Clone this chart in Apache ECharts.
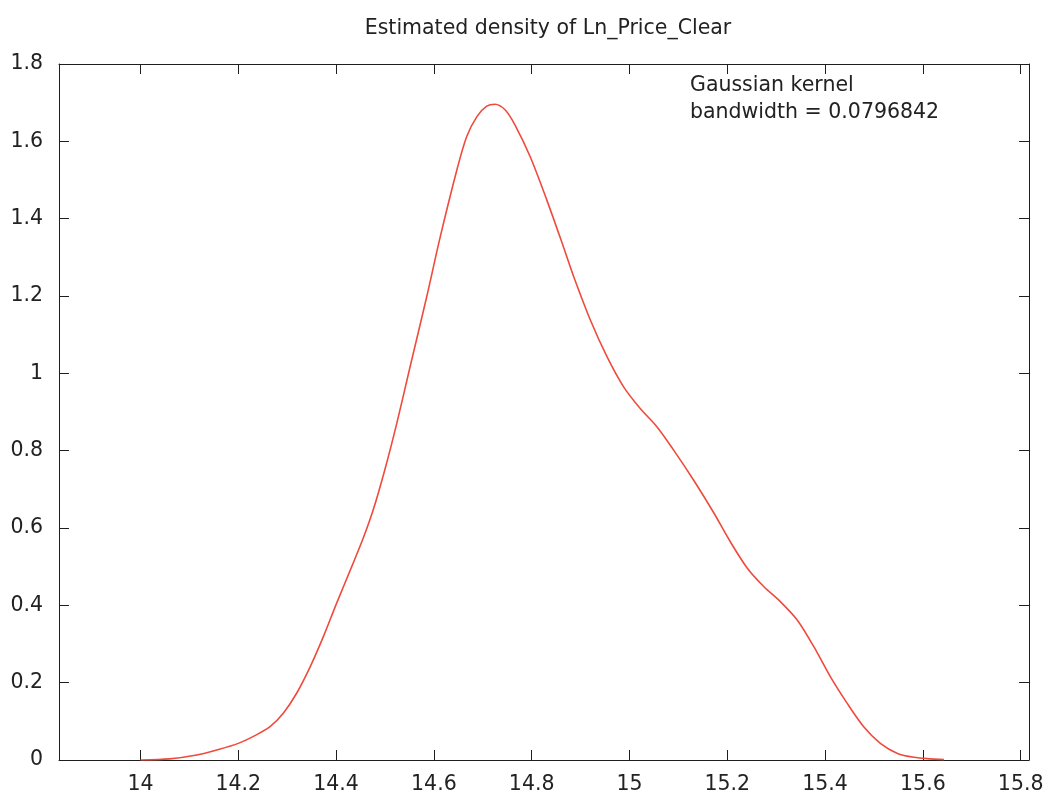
<!DOCTYPE html>
<html>
<head>
<meta charset="utf-8">
<script src="https://cdn.jsdelivr.net/npm/echarts@6/dist/echarts.min.js"></script>
<style>
html,body{margin:0;padding:0;background:#fff;}
#chart{width:1052px;height:798px;}
</style>
</head>
<body>
<div id="chart"></div>
<script>
var titleText = 'Estimated density of Ln_Price_Clear';
var noteLines = ['Gaussian kernel', 'bandwidth = 0.0796842'];
var xTicks = [14, 14.2, 14.4, 14.6, 14.8, 15, 15.2, 15.4, 15.6, 15.8];
var yTicks = [0, 0.2, 0.4, 0.6, 0.8, 1, 1.2, 1.4, 1.6, 1.8];
var xs = [14.0, 14.06, 14.115, 14.156, 14.2, 14.237, 14.265, 14.292, 14.319, 14.347,
  14.374, 14.401, 14.432, 14.455, 14.476, 14.5, 14.524, 14.551, 14.585, 14.613, 14.647, 14.667,
  14.688, 14.708, 14.725, 14.746, 14.766, 14.797, 14.831, 14.865, 14.886, 14.92,
  14.954, 14.988, 15.022, 15.056, 15.09, 15.131, 15.172, 15.206, 15.241, 15.275,
  15.309, 15.343, 15.377, 15.411, 15.445, 15.479, 15.513, 15.548, 15.582, 15.616, 15.643];
var density = [0.0, 0.003, 0.013, 0.026, 0.043, 0.065, 0.086, 0.121, 0.172, 0.241,
  0.319, 0.405, 0.500, 0.572, 0.647, 0.752, 0.870, 1.015, 1.196, 1.353, 1.526, 1.612,
  1.664, 1.691, 1.696, 1.681, 1.642, 1.560, 1.448, 1.327, 1.250, 1.138,
  1.043, 0.965, 0.909, 0.862, 0.802, 0.724, 0.640, 0.565, 0.496, 0.448,
  0.409, 0.362, 0.293, 0.215, 0.147, 0.086, 0.043, 0.017, 0.007, 0.003, 0.001];

var pts = xs.map(function (x, i) { return [x, density[i]]; });
var XMIN = 13.8334, XMAX = 15.817;
var FONT = '"DejaVu Sans", sans-serif';
var FS = 20.5;
var axisColor = '#1e1e1e';

function fmt(v) { return String(Math.round(v * 1000) / 1000); }

var chart = echarts.init(document.getElementById('chart'), null, {renderer: 'canvas'});
chart.setOption({
  animation: false,
  backgroundColor: '#fff',
  title: {
    text: titleText, left: 543, top: 13, textAlign: 'center',
    textStyle: {fontFamily: FONT, fontSize: FS, fontWeight: 'normal', color: '#222'}
  },
  grid: {left: 59, top: 64, right: 23, bottom: 38, containLabel: false},
  xAxis: [{
    type: 'value', position: 'bottom', min: XMIN, max: XMAX,
    axisLine: {show: true, onZero: false, lineStyle: {color: axisColor, width: 1}},
    axisTick: {show: true, inside: true, length: 10, customValues: xTicks, lineStyle: {color: axisColor, width: 1}},
    axisLabel: {show: true, customValues: xTicks, formatter: fmt, margin: 14,
      fontFamily: FONT, fontSize: FS, color: '#222'},
    splitLine: {show: false}
  }, {
    type: 'value', position: 'top', min: XMIN, max: XMAX,
    axisLine: {show: true, onZero: false, lineStyle: {color: axisColor, width: 1}},
    axisTick: {show: true, inside: true, length: 10, customValues: xTicks, lineStyle: {color: axisColor, width: 1}},
    axisLabel: {show: false},
    splitLine: {show: false}
  }],
  yAxis: [{
    type: 'value', position: 'left', min: 0, max: 1.8, interval: 0.2,
    axisLine: {show: true, onZero: false, lineStyle: {color: axisColor, width: 1}},
    axisTick: {show: true, inside: true, length: 10, lineStyle: {color: axisColor, width: 1}},
    axisLabel: {show: true, formatter: fmt, margin: 16, fontFamily: FONT, fontSize: FS, color: '#222'},
    splitLine: {show: false}
  }, {
    type: 'value', position: 'right', min: 0, max: 1.8, interval: 0.2,
    axisLine: {show: true, onZero: false, lineStyle: {color: axisColor, width: 1}},
    axisTick: {show: true, inside: true, length: 10, lineStyle: {color: axisColor, width: 1}},
    axisLabel: {show: false},
    splitLine: {show: false}
  }],
  graphic: [{
    type: 'text', left: 690, top: 72,
    style: {text: noteLines.join('\n'), fontFamily: FONT, fontSize: FS, lineHeight: 27, fill: '#222'}
  }],
  series: [{
    type: 'line', xAxisIndex: 0, yAxisIndex: 0, data: pts,
    showSymbol: false, smooth: 0.3,
    lineStyle: {color: '#ef4b3c', width: 1.6}
  }]
});
</script>
</body>
</html>
